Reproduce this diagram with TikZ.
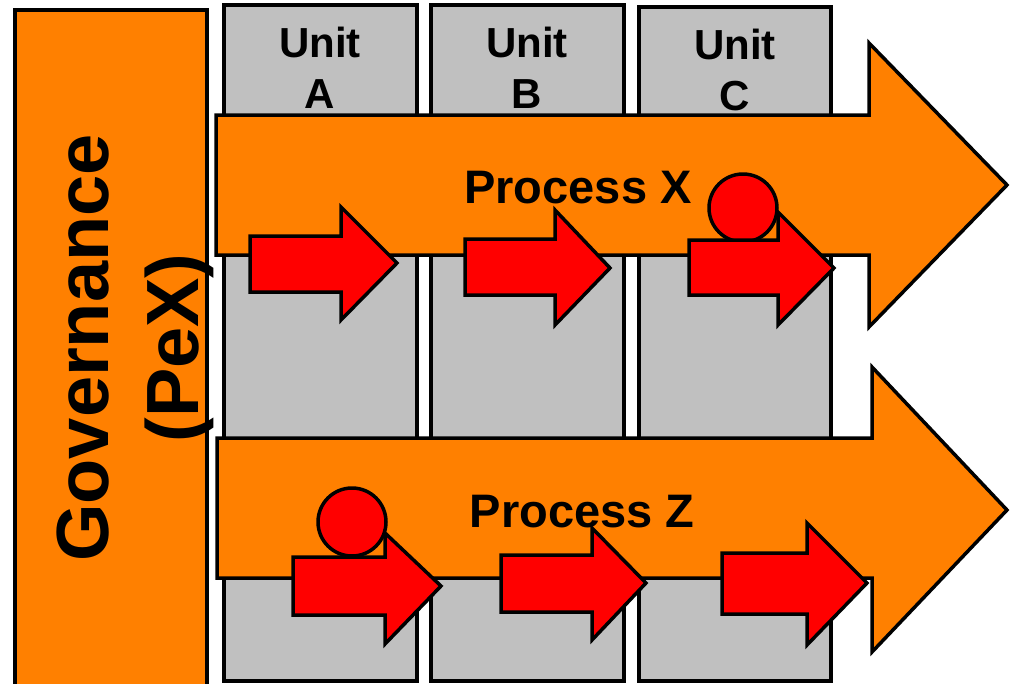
\documentclass[tikz,border=0pt]{standalone}
\usepackage{fontspec}
\setmainfont{Liberation Sans}
\definecolor{pexorange}{RGB}{255,128,0}
\definecolor{unitgrey}{RGB}{192,192,192}
\definecolor{handred}{RGB}{255,0,0}
% block arrow: x0, x1 (head base), xtip, body top, body bottom, head top, head bottom, tip y
\newcommand\handoffarrow[8]{%
  \draw[handoff] (#1,#4) -- (#2,#4) -- (#2,#6) -- (#3,#8) -- (#2,#7) -- (#2,#5) -- (#1,#5) -- cycle;}
\begin{document}
\begin{tikzpicture}[x=1pt,y=-1pt,
  outline/.style={draw=black,line width=3.5pt,line join=miter},
  govbar/.style={outline,fill=pexorange},
  unitcol/.style={outline,fill=unitgrey},
  flow/.style={outline,fill=pexorange},
  handoff/.style={outline,fill=handred},
  marker/.style={outline,fill=handred},
  unitlabel/.style={font=\bfseries\fontsize{42}{51}\selectfont,align=center,inner sep=0pt,anchor=base},
  flowlabel/.style={font=\bfseries\fontsize{47}{56}\selectfont,inner sep=0pt,anchor=base},
  govlabel/.style={font=\bfseries\fontsize{74}{90}\selectfont,align=center,inner sep=0pt,anchor=base,rotate=90}]
\useasboundingbox (0,0) rectangle (1012,683);
\clip (0,0) rectangle (1012,683);

% governance bar
\draw[govbar] (15,10) rectangle (207,700);

% organisational units (labels anchored at the baseline of their last line)
\draw[unitcol] (224,5) rectangle (417,681);
\draw[unitcol] (431,5) rectangle (624,681);
\draw[unitcol] (639,7) rectangle (831,681);
\node[unitlabel] (unitA) at (320,108) {Unit\\A};
\node[unitlabel] (unitB) at (527,108) {Unit\\B};
\node[unitlabel] (unitC) at (735,110) {Unit\\C};

% governance text
\node[govlabel] (gov) at (198,348) {Governance\\(PeX)};

% process X
\draw[flow] (216,115) -- (869,115) -- (869,43) -- (1007,185) -- (869,327) -- (869,255) -- (216,255) -- cycle;
\node[flowlabel] (procX) at (578,203) {Process X};
\handoffarrow{250}{341}{397}{236}{292}{207}{320}{263}
\handoffarrow{465}{555}{610}{239}{295}{210}{325}{268}
\draw[marker] (743,208) circle (34);
\handoffarrow{689}{778}{834}{240}{295}{212}{325}{268}

% process Z
\draw[flow] (217,438) -- (872,438) -- (872,367) -- (1007,510) -- (872,652) -- (872,578) -- (217,578) -- cycle;
\node[flowlabel] (procZ) at (582,527) {Process Z};
\draw[marker] (352,522) circle (34);
\handoffarrow{293}{385}{441}{557}{615}{533}{644}{586}
\handoffarrow{501}{592}{646}{555}{612}{528}{640}{583}
\handoffarrow{722}{807}{867}{553}{614}{523}{645}{583}
\end{tikzpicture}
\end{document}
